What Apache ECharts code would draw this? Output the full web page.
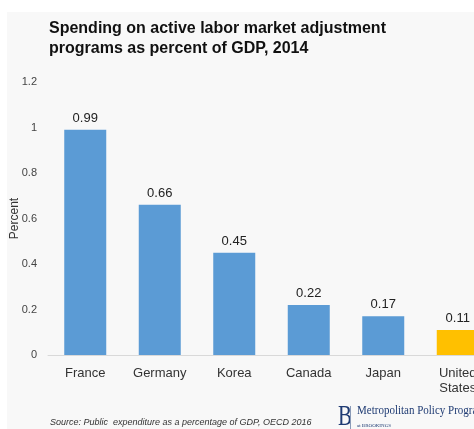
<!DOCTYPE html>
<html><head><meta charset="utf-8">
<script src="https://cdn.jsdelivr.net/npm/echarts@6/dist/echarts.min.js"></script>
<style>html,body{margin:0;padding:0;background:#fff}#c{width:474px;height:429px}</style>
</head><body><div id="c"></div>
<script>
const categories = ['France', 'Germany', 'Korea', 'Canada', 'Japan', 'United\nStates'];
const values = [0.99, 0.66, 0.45, 0.22, 0.17, 0.11];
const barColors = ['#5B9BD5', '#5B9BD5', '#5B9BD5', '#5B9BD5', '#5B9BD5', '#FFC000'];
const yTicks = [0, 0.2, 0.4, 0.6, 0.8, 1, 1.2];

const chart = echarts.init(document.getElementById('c'), null, {renderer: 'canvas'});
chart.setOption({
  animation: false,
  backgroundColor: '#ffffff',
  title: {
    text: 'Spending on active labor market adjustment\nprograms as percent of GDP, 2014',
    left: 49, top: 19, padding: 0,
    textStyle: {fontFamily: 'Liberation Sans', fontSize: 16, fontWeight: 'bold', color: '#111', lineHeight: 20}
  },
  graphic: [
    {type: 'rect', z: -10, shape: {x: 7, y: 12, width: 467, height: 417}, style: {fill: '#f8f8f8'}},
    {type: 'text', x: 50, y: 418, style: {text: 'Source: Public  expenditure as a percentage of GDP, OECD 2016', font: 'italic 9px "Liberation Sans"', fill: '#333'}},
    {type: 'text', x: 338, y: 403, scaleX: 0.72, style: {text: 'B', font: '29px "Liberation Serif"', fill: '#1f3b73'}},
    {type: 'rect', shape: {x: 350, y: 406, width: 1, height: 23}, style: {fill: '#8a9bb8'}},
    {type: 'text', x: 357, y: 404, scaleY: 1.2, style: {text: 'Metropolitan Policy Program', font: '11px "Liberation Serif"', fill: '#1f3b73'}},
    {type: 'text', x: 357, y: 423, style: {text: 'at BROOKINGS', font: '5px "Liberation Serif"', fill: '#1f3b73'}}
  ],
  grid: {left: 48, top: 82, width: 447, height: 273, outerBoundsMode: 'none', containLabel: false},
  xAxis: {
    type: 'category', data: categories,
    axisLine: {show: true, lineStyle: {color: '#d9d9d9', width: 1}},
    axisTick: {show: false},
    axisLabel: {fontFamily: 'Liberation Sans', fontSize: 13, color: '#333', margin: 11, lineHeight: 15, interval: 0}
  },
  yAxis: {
    type: 'value', min: 0, max: 1.2, interval: 0.2,
    name: 'Percent', nameLocation: 'middle', nameGap: 27, nameRotate: 90, nameMoveOverlap: false,
    nameTextStyle: {fontFamily: 'Liberation Sans', fontSize: 12, color: '#333'},
    splitLine: {show: false},
    axisLine: {show: false}, axisTick: {show: false},
    axisLabel: {fontFamily: 'Liberation Sans', fontSize: 11, color: '#444', margin: 11,
      formatter: v => { const t = yTicks.find(x => Math.abs(x - v) < 1e-6); return t === undefined ? '' : String(t); }}
  },
  series: [{
    type: 'bar', barWidth: 42,
    data: values.map((v, i) => ({value: v, itemStyle: {color: barColors[i]}})),
    label: {show: true, position: 'top', distance: 5, fontFamily: 'Liberation Sans', fontSize: 13, color: '#222'}
  }]
});
</script></body></html>
